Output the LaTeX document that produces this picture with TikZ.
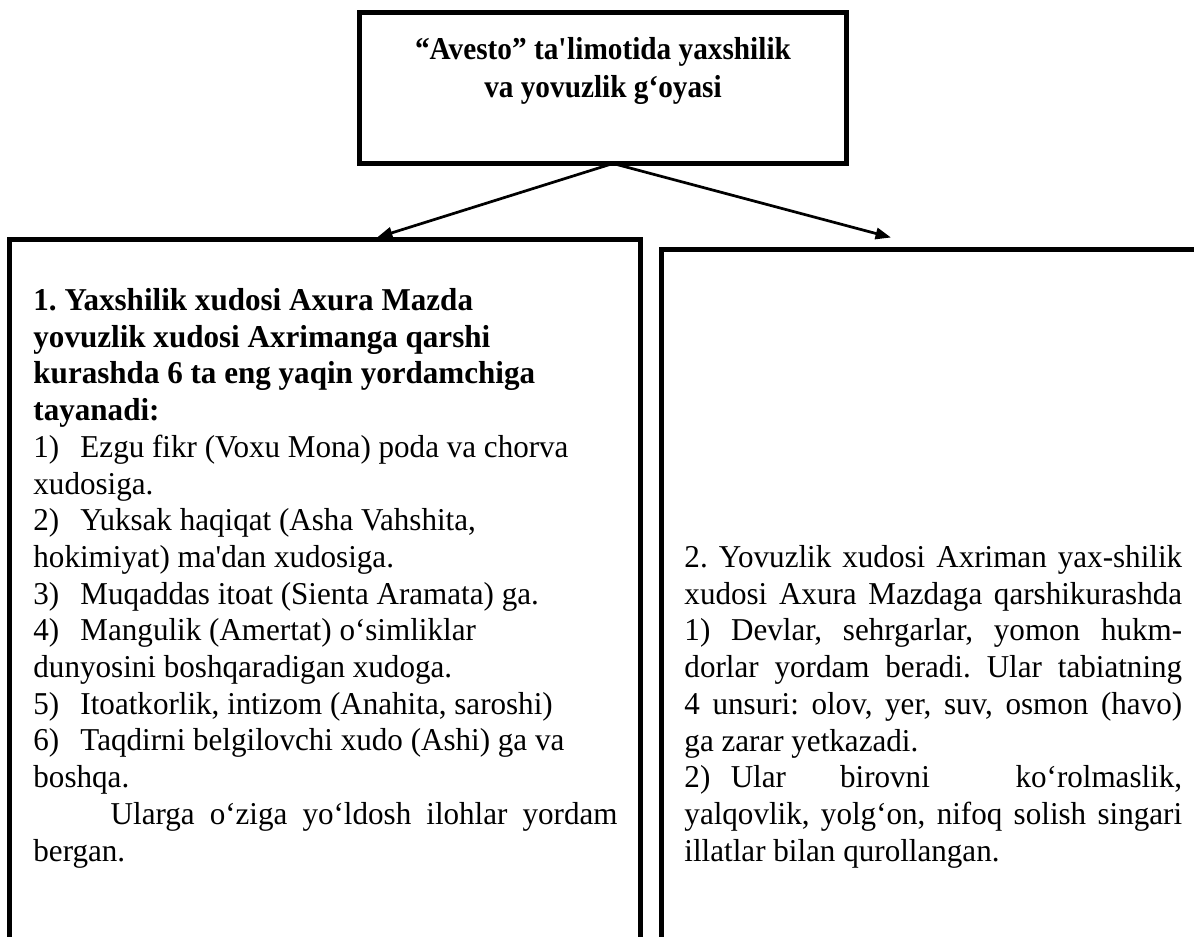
\documentclass[tikz,border=0pt]{standalone}
\usepackage{fontspec}
\setmainfont{Liberation Serif}[FakeStretch=0.977]
\newfontfamily\HeadFont{Liberation Serif}[FakeStretch=0.92]
\usepackage{tikz}
\usetikzlibrary{positioning,arrows.meta}
\frenchspacing
\newcommand{\PxUnit}{0.44pt}
\newcommand{\ListNo}[1]{\makebox[20.7pt][l]{#1}}
\newcommand{\GoodLine}[1]{\makebox[257pt][s]{#1}}
\newcommand{\EvilLine}[1]{\makebox[219pt][s]{#1}}
\tikzset{
  framebox/.style={draw=black,line width=2.2pt,rectangle,inner sep=0pt,outer sep=0pt,anchor=north west},
  boxtext/.style={inner sep=0pt,anchor=north west,align=justify,font=\fontsize{14}{16.15}\selectfont},
  headtext/.style={inner sep=0pt,anchor=north,align=center,font=\HeadFont\fontsize{14}{16.8}\selectfont\bfseries},
  linkarrow/.style={-{Triangle[length=6.8pt,width=5pt]},line width=1.2pt}
}

\begin{document}
\begin{tikzpicture}[x=0.44pt,y=-0.44pt]
  \path[use as bounding box,fill=white] (0,0) rectangle (1194,937);
  \clip (0,0) rectangle (1194,937);

  % frames
  \node[framebox,minimum width=487*\PxUnit,minimum height=151*\PxUnit] (avesto) at (359.5,12.5) {};
  \node[framebox,minimum width=630.5*\PxUnit,minimum height=800*\PxUnit] (goodbox) at (9.5,239.5) {};
  \node[framebox,minimum width=600*\PxUnit,minimum height=800*\PxUnit] (evilbox) at (661.5,249.5) {};

  % texts
  \node[headtext] (avestotext) at (603,37) {“Avesto” ta\textquotesingle limotida yaxshilik\\ va yovuzlik g‘oyasi};
  \node[boxtext,text width=257pt] (goodtext) at (33,288) {%
    {\bfseries 1. Yaxshilik xudosi Axura Mazda\\
    yovuzlik xudosi Axrimanga qarshi\\
    kurashda 6 ta eng yaqin yordamchiga\\
    tayanadi:}\\
    \ListNo{1)}Ezgu fikr (Voxu Mona) poda va chorva\\
    xudosiga.\\
    \ListNo{2)}Yuksak haqiqat (Asha Vahshita,\\
    hokimiyat) ma\textquotesingle dan xudosiga.\\
    \ListNo{3)}Muqaddas itoat (Sienta Aramata) ga.\\
    \ListNo{4)}Mangulik (Amertat) o‘simliklar\\
    dunyosini boshqaradigan xudoga.\\
    \ListNo{5)}Itoatkorlik, intizom (Anahita, saroshi)\\
    \ListNo{6)}Taqdirni belgilovchi xudo (Ashi) ga va\\
    boshqa.\\
    \GoodLine{\hspace*{34pt}Ularga o‘ziga yo‘ldosh ilohlar yordam}\\
    bergan.};
  \node[boxtext,text width=219pt] (eviltext) at (684,545) {%
    \EvilLine{2. Yovuzlik xudosi Axriman yax-shilik}\\
    \EvilLine{xudosi Axura Mazdaga qarshikurashda}\\
    \EvilLine{1) Devlar, sehrgarlar, yomon hukm-}\\
    \EvilLine{dorlar yordam beradi. Ular tabiatning}\\
    \EvilLine{4 unsuri: olov, yer, suv, osmon (havo)}\\
    ga zarar yetkazadi.\\
    \EvilLine{2)\hspace*{9pt}Ular\hspace{20pt plus 1fil}birovni\hspace{32pt plus 1.5fil}ko‘rolmaslik,}\\
    \EvilLine{yalqovlik, yolg‘on, nifoq solish singari}\\
    illatlar bilan qurollangan.};

  % arrows
  \coordinate (fork) at (613,163.5);
  \coordinate (goodtip) at (377,237.5);
  \coordinate (eviltip) at (891,237.5);
  \draw[linkarrow] (fork) -- (goodtip);
  \draw[linkarrow] (fork) -- (eviltip);
\end{tikzpicture}
\end{document}
